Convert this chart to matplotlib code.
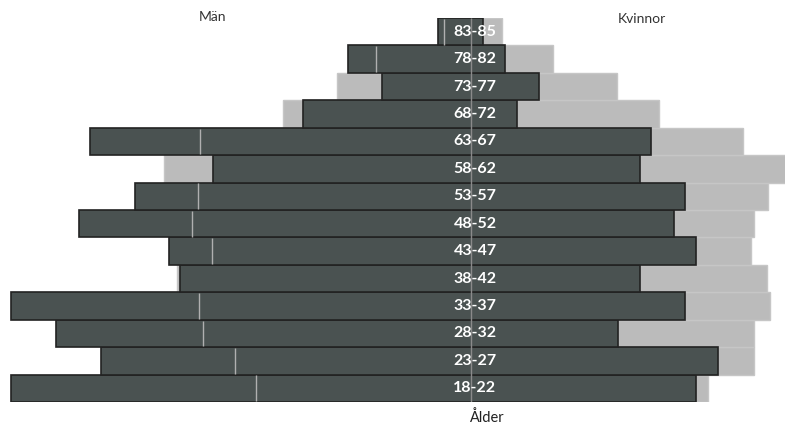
import matplotlib
matplotlib.use("Agg")
import matplotlib.pyplot as plt
import numpy as np

# age groups, bottom to top
ages = ["18-22", "23-27", "28-32", "33-37", "38-42", "43-47", "48-52",
        "53-57", "58-62", "63-67", "68-72", "73-77", "78-82", "83-85"]

# dark bars (observed)
men = [460, 370, 415, 460, 291, 302, 392, 336, 258, 381, 168, 89, 123, 33]
women = [225, 247, 147, 214, 169, 225, 203, 214, 169, 180, 46, 68, 34, 12]

# light bars (reference population)
men_ref = [215, 236, 268, 272, 294, 259, 279, 273, 307, 271, 188, 134, 95, 27]
women_ref = [237, 283, 283, 299, 296, 280, 283, 297, 320, 272, 188, 146, 82, 31]

DARK = "#4a5251"
LIGHT = "#bbbbbb"

fig = plt.figure(figsize=(7.85, 4.25), dpi=100)
ax = fig.add_axes([0, 23 / 425, 1, 384 / 425])

y = np.arange(len(ages))
men_a = np.array(men)
men_r = np.array(men_ref)

# reference bars behind
ax.barh(y, men_r, left=-men_r, height=1.0, color=LIGHT,
        edgecolor="#c6c6c6", linewidth=1, zorder=1)
ax.barh(y, women_ref, left=0, height=1.0, color=LIGHT,
        edgecolor="#c6c6c6", linewidth=1, zorder=1)

# observed bars, one piece from men to women
ax.barh(y, men_a + np.array(women), left=-men_a, height=1.0, color=DARK,
        edgecolor="#222222", linewidth=1.2, zorder=2)

# reference edge shown where it falls inside the dark bar
inside = men_r < men_a
ax.vlines(-men_r[inside], y[inside] - 0.47, y[inside] + 0.47,
          color="#b0b0b0", linewidth=1, zorder=3)

# centre line
ax.vlines(0, -0.5, len(ages) - 0.5, color="#8a8a8a", linewidth=1, zorder=3)

for i, a in enumerate(ages):
    ax.text(4, i, a, color="white", fontsize=11.5, fontweight="bold",
            family="Lato", ha="center", va="center", zorder=4)

ax.set_xlim(-471, 314)
ax.set_ylim(-0.5, len(ages) - 0.5)
ax.axis("off")

fig.text(212 / 785, 1 - 17 / 425, "Män", fontsize=10, family="Lato",
         color="#333333", ha="center", va="center")
fig.text(642 / 785, 1 - 19 / 425, "Kvinnor", fontsize=10, family="Lato",
         color="#333333", ha="center", va="center")
fig.text(486 / 785, 1 - 418 / 425, "Ålder", fontsize=10.5, family="Lato",
         color="#222222", ha="center", va="center")

fig.savefig("out.png", dpi=100)
